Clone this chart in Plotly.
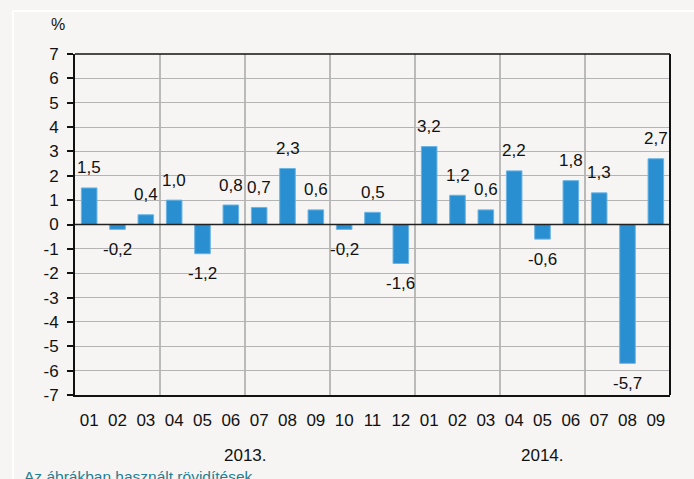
import plotly.graph_objects as go

months = ["01","02","03","04","05","06","07","08","09","10","11","12",
          "01","02","03","04","05","06","07","08","09"]
values = [1.5,-0.2,0.4,1.0,-1.2,0.8,0.7,2.3,0.6,-0.2,0.5,-1.6,
          3.2,1.2,0.6,2.2,-0.6,1.8,1.3,-5.7,2.7]
years = ["2013.", "2014."]
year_counts = [12, 9]
y_ticks = list(range(-7, 8))

BG = "#f6f5f3"
FONT = "Liberation Sans, Arial, sans-serif"
FS = 17
idx = list(range(len(months)))

fig = go.Figure()
fig.add_trace(go.Bar(
    x=idx, y=values,
    marker=dict(color="#2a8fd0", line=dict(color="#6ab4e4", width=1)),
    width=0.55, hoverinfo="skip",
))

ann = []
for i, v in zip(idx, values):
    ann.append(dict(x=i, y=v, xref="x", yref="y",
                    text=f"{v:.1f}".replace(".", ","),
                    showarrow=False, yanchor="middle",
                    yshift=20 if v >= 0 else -20,
                    font=dict(size=FS, color="#111", family=FONT)))

start = 0
for yr, n in zip(years, year_counts):
    ann.append(dict(x=start + (n - 1) / 2, y=0, xref="x", yref="paper",
                    text=yr, showarrow=False, yanchor="middle", yshift=-60,
                    font=dict(size=FS, color="#111", family=FONT)))
    start += n

ann.append(dict(x=0, y=1, xref="paper", yref="paper", text="%",
                showarrow=False, xshift=-26, yshift=30, yanchor="middle",
                font=dict(size=16, color="#111", family=FONT)))

shapes = []
# quarter separators
for b in range(3, len(months), 3):
    shapes.append(dict(type="line", xref="x", yref="y", x0=b - 0.5, x1=b - 0.5,
                       y0=-7, y1=7, line=dict(color="#9a9a9a", width=1.3), layer="below"))
# zero line
shapes.append(dict(type="line", xref="paper", yref="y", x0=0, x1=1, y0=0, y1=0,
                   line=dict(color="#222", width=1.5)))
# top and right border
shapes.append(dict(type="line", xref="paper", yref="paper", x0=0, x1=1, y0=1, y1=1,
                   line=dict(color="#111", width=1.5)))
shapes.append(dict(type="line", xref="paper", yref="paper", x0=1, x1=1, y0=0, y1=1,
                   line=dict(color="#111", width=2)))
# panel border (white)
shapes.append(dict(type="line", xref="paper", yref="paper",
                   x0=(13 - 75) / 595, x1=(694 - 75) / 595,
                   y0=(395 - 11) / 341, y1=(395 - 11) / 341,
                   line=dict(color="white", width=2)))
shapes.append(dict(type="line", xref="paper", yref="paper",
                   x0=(13 - 75) / 595, x1=(13 - 75) / 595,
                   y0=(395 - 11) / 341, y1=(395 - 485) / 341,
                   line=dict(color="white", width=2)))

ann.append(dict(x=(22 - 75) / 595, y=0, xref="paper", yref="paper",
                text="Az ábrákban használt rövidítések", showarrow=False,
                xanchor="left", yanchor="top", yshift=-71,
                font=dict(size=15.5, color="#1f7f95", family=FONT)))

fig.update_layout(
    width=694, height=479,
    margin=dict(l=75, r=24, t=54, b=84),
    paper_bgcolor=BG, plot_bgcolor=BG,
    showlegend=False,
    annotations=ann, shapes=shapes,
    separators=", ",
    xaxis=dict(tickmode="array", tickvals=idx, ticktext=months,
               range=[-0.5, len(months) - 0.5], showgrid=False,
               showline=True, linecolor="#111", linewidth=2,
               ticks="outside", ticklen=9, tickcolor="rgba(0,0,0,0)",
               tickfont=dict(size=FS, color="#111", family=FONT),
               zeroline=False),
    yaxis=dict(tickmode="array", tickvals=y_ticks, ticktext=[str(t) for t in y_ticks],
               range=[-7, 7], showgrid=True, gridcolor="#b4b4b4", gridwidth=1.3,
               showline=True, linecolor="#111", linewidth=2,
               ticks="outside", ticklen=6, tickcolor="#111", tickwidth=1.5,
               ticklabelstandoff=5,
               tickfont=dict(size=FS, color="#111", family=FONT),
               zeroline=False),
)

fig.write_html("out.html",
               config={"displayModeBar": False},
               post_script="document.body.style.margin='0';"
                           "document.body.style.background='" + BG + "';")
